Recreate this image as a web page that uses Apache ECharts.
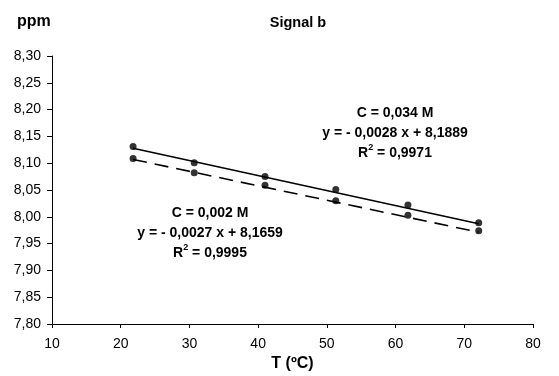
<!DOCTYPE html>
<html>
<head>
<meta charset="utf-8">
<script src="https://cdn.jsdelivr.net/npm/echarts@6/dist/echarts.min.js"></script>
<style>
  html, body { margin: 0; padding: 0; background: #fff; }
  #chart { width: 559px; height: 376px; }
</style>
</head>
<body>
<div id="chart"></div>
<script>
// Temperature (ºC) of each measurement
var temperatures = [21.8, 30.7, 41.0, 51.3, 61.8, 72.1];
// Chemical shift of signal b (ppm) at two concentrations
var shiftHigh = [8.131, 8.101, 8.075, 8.051, 8.022, 7.989]; // C = 0,034 M
var shiftLow  = [8.109, 8.082, 8.059, 8.030, 8.003, 7.974]; // C = 0,002 M
// Linear fits printed next to each series: [slope, intercept, R²]
var fitHigh = [-0.0028, 8.1889, 0.9971];
var fitLow  = [-0.0027, 8.1659, 0.9995];
// Axis ticks
var xTicks = [10, 20, 30, 40, 50, 60, 70, 80];
var yTicks = [7.80, 7.85, 7.90, 7.95, 8.00, 8.05, 8.10, 8.15, 8.20, 8.25, 8.30];

function pairs(xs, ys) { return xs.map(function (x, i) { return [x, ys[i]]; }); }
function fitLine(fit) {
  var x0 = temperatures[0], x1 = temperatures[temperatures.length - 1];
  return [[x0, fit[0] * x0 + fit[1]], [x1, fit[0] * x1 + fit[1]]];
}
function comma(v, d) { return v.toFixed(d).replace('.', ','); }
function eqText(fit) {
  return 'y = - ' + comma(-fit[0], 4) + ' x + ' + comma(fit[1], 4);
}

var font = 'Liberation Sans, Arial, sans-serif';
var chart = echarts.init(document.getElementById('chart'), null, { renderer: 'canvas' });

function fitLabel(conc, fit, cx, top) {
  return {
    type: 'text', x: cx, y: top, style: {
      text: 'C = ' + conc + '\n' + eqText(fit) + '\n{r|R}{s|2}{r| = ' + comma(fit[2], 4) + '}',
      fontFamily: font, fontSize: 14, fontWeight: 'bold', fill: '#000', align: 'center',
      lineHeight: 20,
      rich: {
        r: { fontFamily: font, fontSize: 14, fontWeight: 'bold', lineHeight: 20 },
        s: { fontFamily: font, fontSize: 9, fontWeight: 'bold', verticalAlign: 'top', lineHeight: 14 }
      }
    }
  };
}

chart.setOption({
  animation: false,
  backgroundColor: '#fff',
  grid: { left: 52, right: 26, top: 56, bottom: 52, containLabel: false, outerBoundsMode: 'none' },
  title: [
    { text: 'Signal b', left: 293, top: 10, textAlign: 'center',
      textStyle: { fontFamily: font, fontSize: 14.5, fontWeight: 'bold', color: '#000' } },
    { text: 'ppm', left: 12, top: 9,
      textStyle: { fontFamily: font, fontSize: 16, fontWeight: 'bold', color: '#000' } }
  ],
  xAxis: {
    type: 'value', min: xTicks[0], max: xTicks[xTicks.length - 1], interval: 10,
    name: 'T (ºC)', nameLocation: 'middle', nameGap: 32,
    nameTextStyle: { fontFamily: font, fontSize: 16, fontWeight: 'bold', color: '#000' },
    axisLine: { onZero: false, lineStyle: { color: '#000', width: 1 } },
    axisTick: { show: true, length: 4, lineStyle: { color: '#000' } },
    axisLabel: { fontFamily: font, fontSize: 14, color: '#000', margin: 13 },
    splitLine: { show: false }
  },
  yAxis: {
    type: 'value', min: yTicks[0], max: yTicks[yTicks.length - 1], interval: 0.05,
    axisLine: { show: true, lineStyle: { color: '#000', width: 1 } },
    axisTick: { show: true, length: 5, lineStyle: { color: '#000' } },
    axisLabel: { fontFamily: font, fontSize: 14, color: '#000', margin: 11,
      formatter: function (v) { return comma(v, 2); } },
    splitLine: { show: false }
  },
  series: [
    { name: 'fit 0,034 M', type: 'line', data: fitLine(fitHigh), symbol: 'none',
      lineStyle: { color: '#000', width: 1.6 }, z: 2 },
    { name: 'fit 0,002 M', type: 'line', data: fitLine(fitLow), symbol: 'none',
      lineStyle: { color: '#000', width: 1.6, type: [14, 8] }, z: 2 },
    { name: 'C = 0,034 M', type: 'scatter', data: pairs(temperatures, shiftHigh),
      symbol: 'circle', symbolSize: 7, itemStyle: { color: '#000' }, z: 3 },
    { name: 'C = 0,002 M', type: 'scatter', data: pairs(temperatures, shiftLow),
      symbol: 'circle', symbolSize: 7, itemStyle: { color: '#000' }, z: 3 }
  ],
  graphic: [
    fitLabel('0,034 M', fitHigh, 395, 103),
    fitLabel('0,002 M', fitLow, 210, 203)
  ]
});
</script>
</body>
</html>
